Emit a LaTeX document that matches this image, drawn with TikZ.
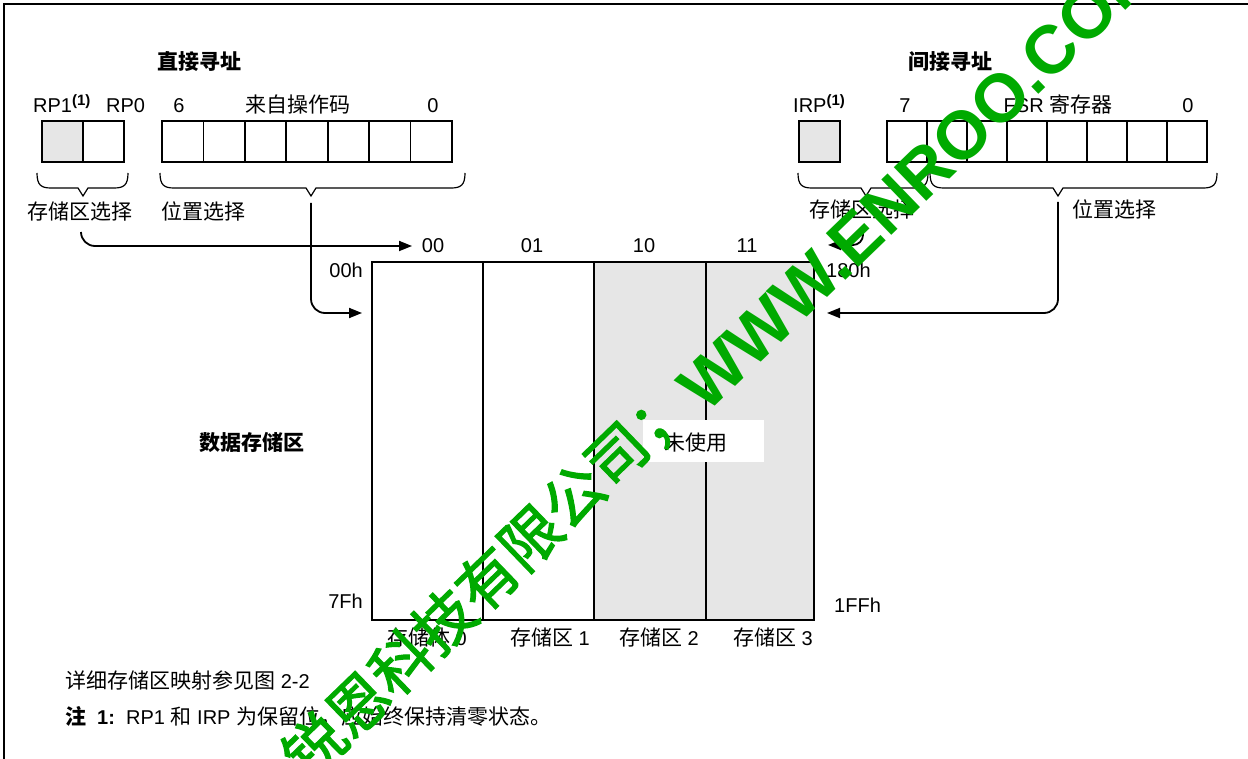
\documentclass[tikz,border=0pt]{standalone}
\usepackage{fontspec}
\setmainfont{Liberation Sans}
\newfontfamily\cjk{Noto Sans CJK SC}
\newfontfamily\cjkwm[FakeBold=2]{Noto Sans CJK SC}
\usetikzlibrary{arrows.meta}
\definecolor{cellgray}{RGB}{230,230,230}
\definecolor{wmgreen}{RGB}{0,170,0}
\newcommand\zhtext[1]{{\cjk\fontsize{21}{21}\selectfont #1}}
\newcommand\supone{\raisebox{7pt}{\fontsize{15}{15}\selectfont\bfseries(1)}}
\newcommand\bracepath[3]{%
  \draw[bracestyle] (#1,173) .. controls (#1,185) and (#1+4,188) .. (#1+14,188)
    -- (#3-5,188) -- (#3,196) -- (#3+5,188) -- (#2-14,188)
    .. controls (#2-4,188) and (#2,185) .. (#2,173);}
\begin{document}
\begin{tikzpicture}[x=1pt,y=-1pt,
  lat/.style={font=\fontsize{20}{20}\selectfont, inner sep=0pt},
  latb/.style={font=\fontsize{20}{20}\selectfont\bfseries, inner sep=0pt},
  zh/.style={font=\fontsize{21}{21}\selectfont\cjk, inner sep=0pt},
  zhb/.style={font=\fontsize{21}{21}\selectfont\cjk\bfseries, inner sep=0pt},
  cell/.style={draw, line width=1.8pt, minimum height=41pt, inner sep=0pt, outer sep=0pt, anchor=north west},
  col/.style={draw, line width=2pt, minimum height=358pt, inner sep=0pt, outer sep=0pt, anchor=north west},
  bracestyle/.style={line width=1.2pt},
  conn/.style={line width=1.8pt, rounded corners=14pt, -{Triangle[length=13pt,width=10pt]}},
  wm/.style={text=wmgreen, inner sep=0pt, rotate=44}
]
\useasboundingbox (0,0) rectangle (1248,759);
\fill[white] (0,0) rectangle (1248,759);
% frame
\draw[line width=2.5pt] (4,765) -- (4,4) -- (1255,4);

% titles
\node[zhb, anchor=base] (tdir) at (199,70) {直接寻址};
\node[zhb, anchor=base] (tind) at (950,70) {间接寻址};

% direct addressing bits
\node[lat, anchor=base west] (rp1) at (33,112.5) {RP1\supone};
\node[lat, anchor=base west] (rp0) at (106,112.5) {RP0};
\node[lat, anchor=base] (b6) at (179,112.5) {6};
\node[zh, anchor=base] (opc) at (298,112.5) {来自操作码};
\node[lat, anchor=base] (b0d) at (433,112.5) {0};
\node[cell, fill=cellgray, minimum width=41pt] (rpa) at (42,121) {};
\node[cell, minimum width=41pt] (rpb) at (83,121) {};
\foreach \i in {0,...,6} {
  \node[cell, minimum width=41.43pt] (op\i) at (162+\i*41.43,121) {};
}
\bracepath{37}{128}{83}
\bracepath{160}{465}{311}
\node[zh, anchor=base] (bsl) at (80,220) {存储区选择};
\node[zh, anchor=base] (psl) at (203,220) {位置选择};

% indirect addressing bits
\node[lat, anchor=base west] (irp) at (793,112.5) {IRP\supone};
\node[lat, anchor=base] (b7) at (905,112.5) {7};
\node[lat, anchor=base] (fsr) at (1058,112.5) {FSR \zhtext{寄存器}};
\node[lat, anchor=base] (b0i) at (1188,112.5) {0};
\node[cell, fill=cellgray, minimum width=41pt] (irpc) at (799,121) {};
\foreach \i in {0,...,7} {
  \node[cell, minimum width=40pt] (fs\i) at (887+\i*40,121) {};
}
\bracepath{798}{928}{866}
\bracepath{930}{1217}{1058}
\node[zh, anchor=base] (bsr) at (862,218) {存储区选择};
\node[zh, anchor=base] (psr) at (1114,218) {位置选择};

% memory banks
\node[col, minimum width=111pt] (bank0) at (372,262) {};
\node[col, minimum width=111pt] (bank1) at (483,262) {};
\node[col, fill=cellgray, minimum width=112pt] (bank2) at (594,262) {};
\node[col, fill=cellgray, minimum width=108pt] (bank3) at (706,262) {};
\node[fill=white, minimum width=121pt, minimum height=42pt, inner sep=0pt] (unusedbox) at (703.5,441) {};
\node[zh, anchor=base] (unused) at (696,450) {未使用};

\node[lat, anchor=base] (c00) at (433,252.5) {00};
\node[lat, anchor=base] (c01) at (532,252.5) {01};
\node[lat, anchor=base] (c10) at (644,252.5) {10};
\node[lat, anchor=base] (c11) at (747,252.5) {11};
\node[lat, anchor=base east] (a00h) at (363,277.5) {00h};
\node[lat, anchor=base east] (a7fh) at (363,608.5) {7Fh};
\node[lat, anchor=base west] (a180h) at (826,277.5) {180h};
\node[lat, anchor=base west] (a1ffh) at (834,612.5) {1FFh};
\node[lat, anchor=base] (n0) at (427,645) {\zhtext{存储体} 0};
\node[lat, anchor=base] (n1) at (550,645) {\zhtext{存储区} 1};
\node[lat, anchor=base] (n2) at (659,645) {\zhtext{存储区} 2};
\node[lat, anchor=base] (n3) at (773,645) {\zhtext{存储区} 3};
\node[zhb, anchor=base] (dmem) at (252,450) {数据存储区};

% connectors
\coordinate (lbank) at (81,232);
\coordinate (lbankin) at (412,246);
\coordinate (lpos) at (311,203);
\coordinate (lposin) at (362,313);
\coordinate (rbank) at (863,231);
\coordinate (rbankin) at (828,245);
\coordinate (rpos) at (1058,202);
\coordinate (rposin) at (827,313);
\draw[conn] (lbank) |- (lbankin);
\draw[conn] (lpos) |- (lposin);
\draw[conn, rounded corners=10pt] (rbank) |- (rbankin);
\draw[conn] (rpos) |- (rposin);

% notes
\node[lat, anchor=base west] (see) at (65,688.5) {\zhtext{详细存储区映射参见图} 2-2};
\node[zhb, anchor=base west] (note) at (65,724.5) {注};
\node[latb, anchor=base west] (note1) at (97,724.5) {1:};
\node[lat, anchor=base west] (notetxt) at (126,724.5) {RP1 \zhtext{和} IRP \zhtext{为保留位，应始终保持清零状态。}};

% watermark
\begin{scope}
\clip (0,0) rectangle (1248,759);
\node[wm, anchor=east, font=\cjkwm\fontsize{60}{60}\selectfont] (wm1) at (683,393) {锐恩科技有限公司；};
\node[wm, anchor=west, font=\bfseries\fontsize{68}{68}\selectfont] (wm2) at (690,398) {WWW.ENROO.COM};
\end{scope}
\end{tikzpicture}
\end{document}
